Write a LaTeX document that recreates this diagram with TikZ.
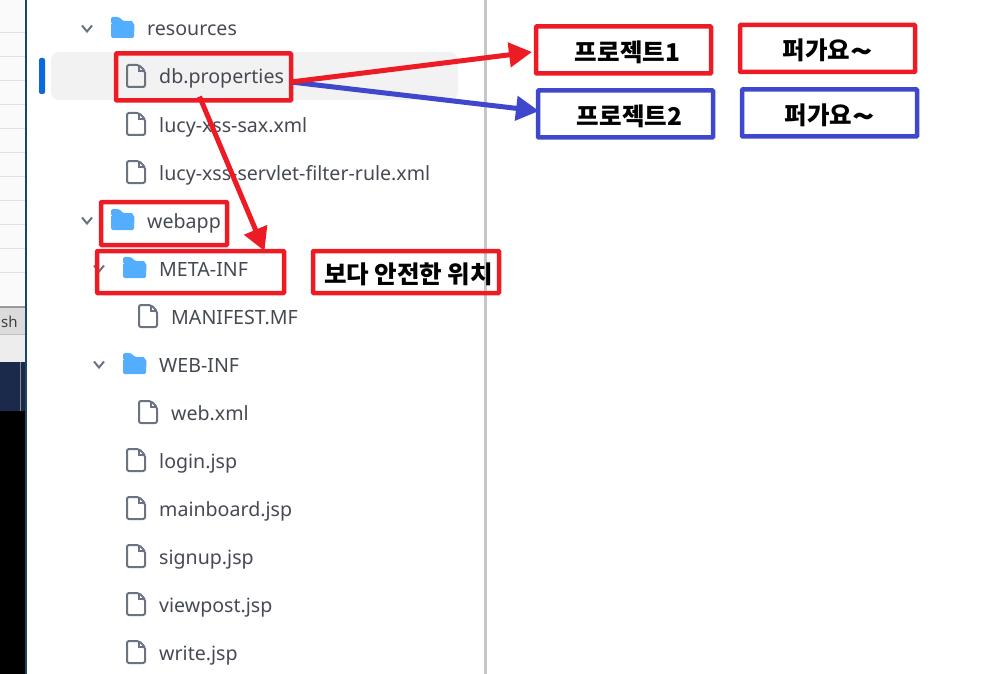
\documentclass[tikz,border=0pt]{standalone}
\usepackage{fontspec}
\setmainfont{Noto Sans}
\newfontfamily\krfont{Noto Sans CJK KR}
\usetikzlibrary{arrows.meta}
\definecolor{markred}{HTML}{ED1C24}
\definecolor{markblue}{HTML}{3F48CC}
\definecolor{icongray}{HTML}{6B7280}
\definecolor{rowtext}{HTML}{454A52}
\definecolor{folderblue}{HTML}{54AEFF}
\definecolor{navystrip}{HTML}{1B2A4A}
\definecolor{paneledge}{HTML}{184866}
\definecolor{selectmark}{HTML}{0B68E0}
\newcommand{\marktilde}{\raisebox{-4pt}[0pt][0pt]{\scalebox{1.5}[1.3]{\textasciitilde}}}
\tikzset{
    rowlabel/.style={anchor=base west,inner sep=0pt,text=rowtext,font=\fontsize{19.6}{24}\selectfont},
    redbox/.style={draw=markred,line width=4.5pt,inner sep=0pt,outer sep=0pt,rounded corners=0.8pt},
    bluebox/.style={redbox,draw=markblue},
    marktext/.style={text=black,text height=24pt,text depth=1pt,font=\krfont\bfseries\fontsize{24.5}{28}\selectfont},
    redarrow/.style={draw=markred,line width=5pt,-{Triangle[length=23pt,width=24pt]}},
    bluearrow/.style={redarrow,draw=markblue},
    fileicon/.pic={
        \draw[icongray,line width=2pt,rounded corners=2pt] (-9,-12) -- (3,-12) -- (9,-6) -- (9,10) -- (-9,10) -- cycle;
        \draw[icongray,line width=1.6pt] (3,-12) -- (3,-6) -- (9,-6);
    },
    foldericon/.pic={
        \fill[folderblue,rounded corners=1.5pt] (-12,-11) -- (-4,-11) -- (0,-7) -- (10,-7) -- (10,-4) -- (-12,-4) -- cycle;
        \fill[folderblue,rounded corners=1.5pt] (-12,-5) -- (11.5,-5) -- (11,10) -- (-12,10) -- cycle;
    },
    chevron/.pic={
        \draw[icongray,line width=2pt] (-5,-3.5) -- (0,2.5) -- (5,-3.5);
    }
}
\begin{document}
\begin{tikzpicture}[x=1pt,y=-1pt]
    \useasboundingbox (0,0) rectangle (985,674);
    % left window behind the panel
    \fill[black!2] (0,0) rectangle (25,305);
    \draw[black!12,line width=0.8pt] (0,32) -- (25,32) (0,56) -- (25,56) (0,80) -- (25,80) (0,104) -- (25,104) (0,128) -- (25,128) (0,152) -- (25,152) (0,176) -- (25,176) (0,200) -- (25,200) (0,224) -- (25,224) (0,248) -- (25,248) (0,272) -- (25,272);
    \fill[black!14] (0,307) rectangle (25,335);
    \fill[black!7] (0,335) rectangle (25,362);
    \fill[black!40] (0,306) rectangle (25,308);
    \fill[black!25] (0,334) rectangle (25,335);
    \fill[black] (0,411) rectangle (25,674);
    \fill[navystrip] (0,362) rectangle (25,411);
    \draw[black!45,line width=0.8pt] (20.5,362) -- (20.5,411);
    \fill[paneledge] (25,0) rectangle (27,674);
    \node[anchor=base west,inner sep=0pt,font=\fontsize{15}{18}\selectfont,text=black!75] (tabsh) at (1,327) {sh};

    % selected row and divider
    \fill[black!5,rounded corners=8pt] (51,52) rectangle (458,100);
    \fill[selectmark,rounded corners=2pt] (39,58) rectangle (45,94);
    \fill[black!22] (484,0) rectangle (487,674);

    % tree rows
    \pic at (87,29) {chevron};
    \pic at (123,28) {foldericon};
    \node[rowlabel] (resources) at (147,36) {resources};
    \pic at (136,77) {fileicon};
    \node[rowlabel] (dbprops) at (159,84) {db.properties};
    \pic at (136,125) {fileicon};
    \node[rowlabel] (saxxml) at (159,132) {lucy-xss-sax.xml};
    \pic at (136,173) {fileicon};
    \node[rowlabel] (rulexml) at (159,180) {lucy-xss-servlet-filter-rule.xml};
    \pic at (87,221) {chevron};
    \pic at (123,220) {foldericon};
    \node[rowlabel] (webapp) at (147,228) {webapp};
    \pic at (99,269) {chevron};
    \pic at (135,268) {foldericon};
    \node[rowlabel] (metainf) at (159,276) {META-INF};
    \pic at (148,317) {fileicon};
    \node[rowlabel] (manifest) at (171,324) {MANIFEST.MF};
    \pic at (99,365) {chevron};
    \pic at (135,364) {foldericon};
    \node[rowlabel] (webinf) at (159,372) {WEB-INF};
    \pic at (148,413) {fileicon};
    \node[rowlabel] (webxml) at (171,420) {web.xml};
    \pic at (136,461) {fileicon};
    \node[rowlabel] (login) at (159,468) {login.jsp};
    \pic at (136,509) {fileicon};
    \node[rowlabel] (mainboard) at (159,516) {mainboard.jsp};
    \pic at (136,557) {fileicon};
    \node[rowlabel] (signup) at (159,564) {signup.jsp};
    \pic at (136,605) {fileicon};
    \node[rowlabel] (viewpost) at (159,612) {viewpost.jsp};
    \pic at (136,653) {fileicon};
    \node[rowlabel] (writejsp) at (159,660) {write.jsp};

    % red and blue marks
    \node[redbox,minimum width=175pt,minimum height=47pt] (dbbox) at (203.5,77) {};
    \node[redbox,minimum width=126pt,minimum height=43pt] (webappbox) at (164,223.5) {};
    \node[redbox,minimum width=187pt,minimum height=42pt] (metabox) at (190.5,272) {};
    \node[redbox,marktext,minimum width=186pt,minimum height=42pt] (safebox) at (406,272) {\hspace*{5pt}보다 안전한 위치};
    \node[redbox,marktext,minimum width=175pt,minimum height=47pt] (prj1) at (623.5,50) {\hspace*{8pt}프로젝트1};
    \node[bluebox,marktext,minimum width=175pt,minimum height=47pt] (prj2) at (625.5,114) {\hspace*{8pt}프로젝트2};
    \node[redbox,marktext,minimum width=175pt,minimum height=47pt] (copy1) at (827.5,48.5) {퍼가요\marktilde};
    \node[bluebox,marktext,minimum width=175pt,minimum height=47pt] (copy2) at (829.5,113) {퍼가요\marktilde};

    \draw[bluearrow] ([yshift=-5pt]dbbox.east) -- ([xshift=1pt,yshift=3pt]prj2.west);
    \draw[redarrow] ([yshift=-5pt]dbbox.east) -- ([xshift=-4pt,yshift=-2pt]prj1.west);
    \draw[redarrow] ([xshift=-4pt,yshift=4pt]dbbox.south) -- ([xshift=74pt]metabox.north);
\end{tikzpicture}
\end{document}
